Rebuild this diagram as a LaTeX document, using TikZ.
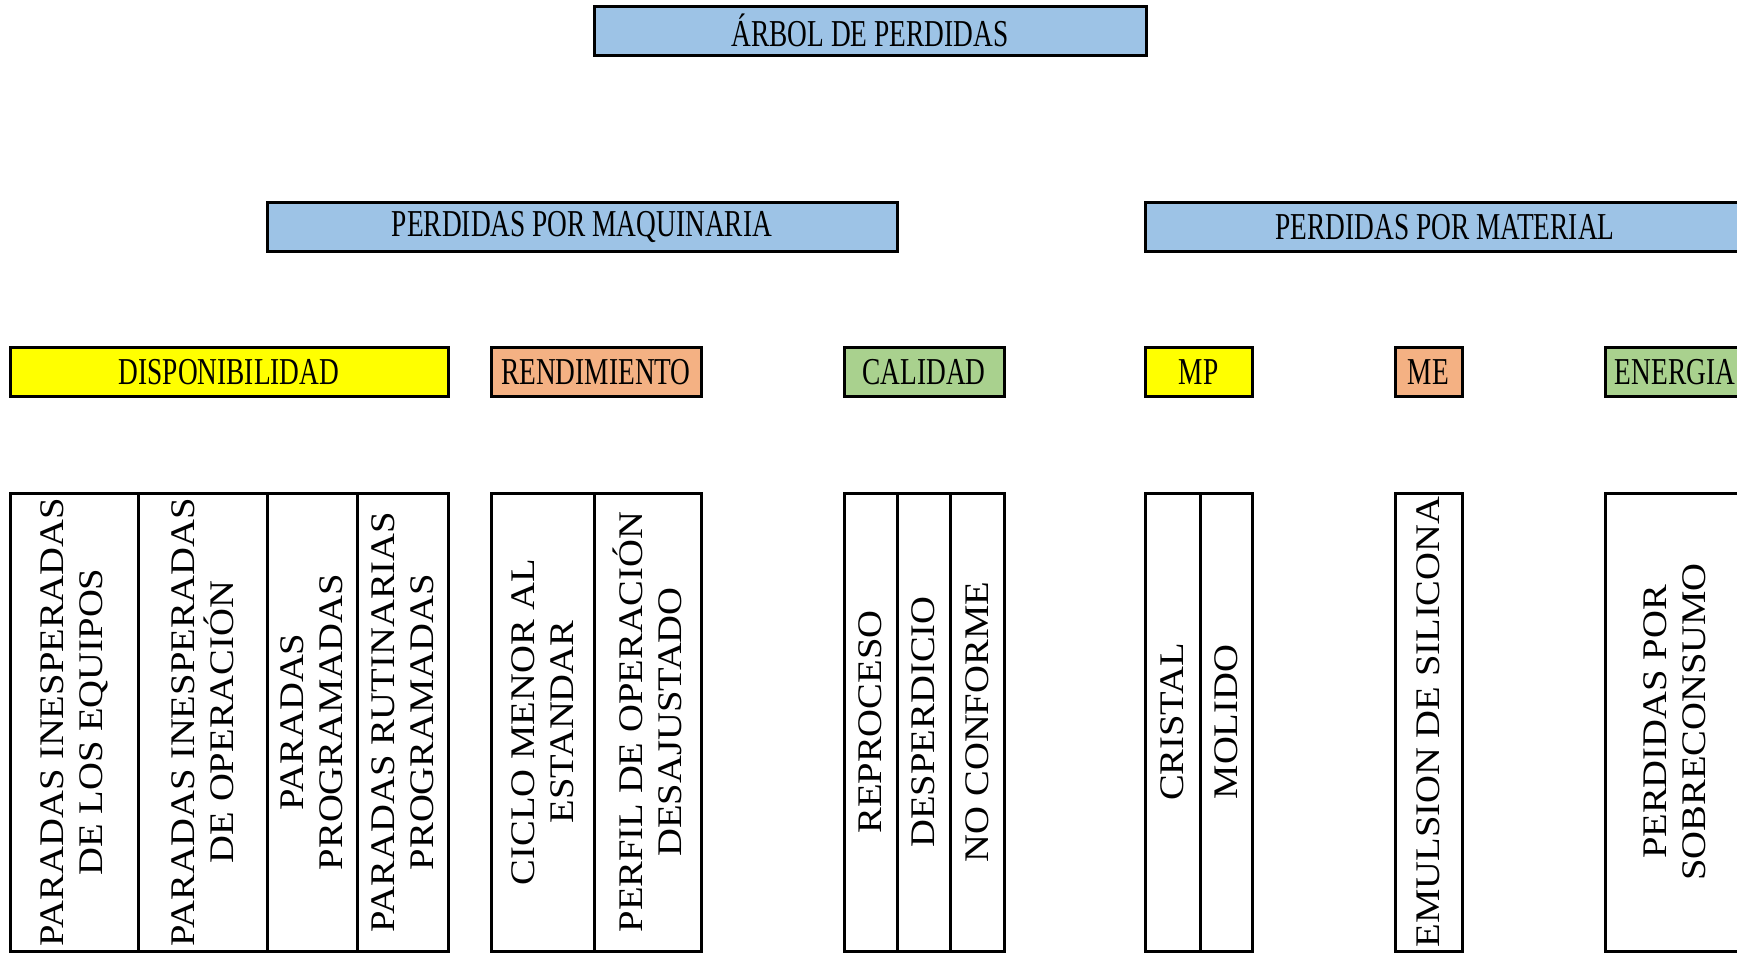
\documentclass[tikz,border=0pt]{standalone}
\usepackage{fontspec}
\setmainfont{Liberation Serif}
\newfontfamily\narrowfont[FakeStretch=0.72]{Liberation Serif}
\newfontfamily\widefont[FakeStretch=1.12]{Liberation Serif}
\usetikzlibrary{positioning}
\definecolor{lossblue}{HTML}{9DC3E6}
\definecolor{lossyellow}{HTML}{FFFF00}
\definecolor{lossorange}{HTML}{F4B183}
\definecolor{lossgreen}{HTML}{A9D18E}
\tikzset{head node/.style={draw, line width=3pt, inner sep=0pt, minimum height=49pt, font=\narrowfont\fontsize{38}{42}\selectfont},
	cell node/.style={draw, line width=3pt, inner sep=0pt, rotate=90, minimum width=458pt, align=center, font=\widefont\fontsize{34.5}{39}\selectfont},}

\begin{document}
\begin{tikzpicture}[x=1pt, y=-1pt]
				\useasboundingbox (0,0) rectangle (1737,953);
				% Headers
				\node[head node, fill=lossblue, minimum width=552pt] (arbol) at (870,30.5) {ÁRBOL DE PERDIDAS};
				\node[head node, fill=lossblue, minimum width=630pt] (maq) at (582,227) {PERDIDAS POR MAQUINARIA};
				\node[head node, fill=lossblue, minimum width=600pt] (mat) at (1445,227) {PERDIDAS POR MATERIAL};
				\node[head node, fill=lossyellow, minimum width=438pt] (disp) at (229,372) {DISPONIBILIDAD};
				\node[head node, fill=lossorange, minimum width=210pt] (rend) at (596,372) {RENDIMIENTO};
				\node[head node, fill=lossgreen, minimum width=160pt] (cal) at (924,372) {CALIDAD};
				\node[head node, fill=lossyellow, minimum width=107pt] (mp) at (1198.5,372) {MP};
				\node[head node, fill=lossorange, minimum width=67pt] (me) at (1428.5,372) {ME};
				\node[head node, fill=lossgreen, minimum width=140pt] (ener) at (1675,372) {ENERGIA};
				% Cells
				\node[cell node, minimum height=128pt] (p1) at (74,722) {PARADAS INESPERADAS\\DE LOS EQUIPOS};
				\node[cell node, minimum height=129pt] (p2) at (202.5,722) {PARADAS INESPERADAS\\DE OPERACIÓN};
				\node[cell node, minimum height=90pt] (p3) at (312,722) {PARADAS\\PROGRAMADAS};
				\node[cell node, minimum height=91pt] (p4) at (402.5,722) {PARADAS RUTINARIAS\\PROGRAMADAS};
				\node[cell node, minimum height=103pt] (r1) at (542.5,722) {CICLO MENOR AL\\ESTANDAR};
				\node[cell node, minimum height=107pt] (r2) at (647.5,722) {PERFIL DE OPERACIÓN\\DESAJUSTADO};
				\node[cell node, minimum height=53pt] (c1) at (870.5,722) {REPROCESO};
				\node[cell node, minimum height=53pt] (c2) at (923.5,722) {DESPERDICIO};
				\node[cell node, minimum height=54pt] (c3) at (977,722) {NO CONFORME};
				\node[cell node, minimum height=55pt] (m1) at (1172.5,722) {CRISTAL};
				\node[cell node, minimum height=52pt] (m2) at (1226,722) {MOLIDO};
				\node[cell node, minimum height=67pt] (e1) at (1428.5,722) {EMULSION DE SILICONA};
				\node[cell node, minimum height=140pt] (g1) at (1675,722) {PERDIDAS POR\\SOBRECONSUMO};
			\end{tikzpicture}
\end{document}
